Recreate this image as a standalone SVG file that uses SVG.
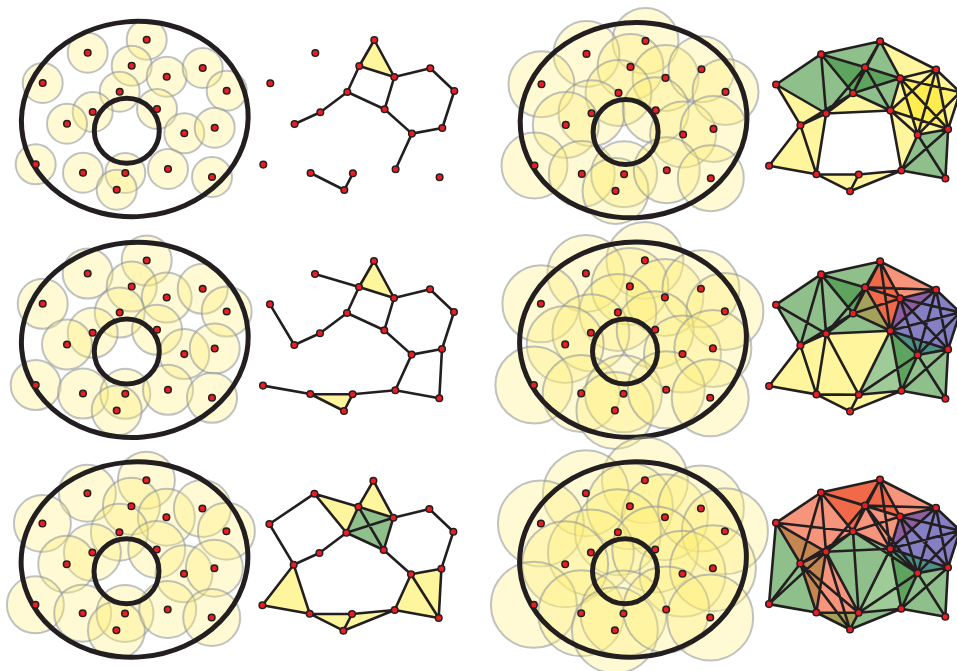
<svg xmlns="http://www.w3.org/2000/svg" xmlns:xlink="http://www.w3.org/1999/xlink" width="957" height="671" viewBox="0 0 957 671">
<style>
.ball circle{fill:#fff176;fill-opacity:.32;stroke:#8a919c;stroke-opacity:.55;stroke-width:2}
.ring{fill:none;stroke:#231f20;stroke-width:5}
.e{fill:none;stroke:#231f20;stroke-width:2.6;stroke-linecap:round;stroke-linejoin:round}
.pt{fill:#ec1c24;stroke:#231f20;stroke-width:1.5}
.y{fill:#fff59d}.by{fill:#ffe92e;fill-opacity:.45}.g{fill:#8fc08c}.dg{fill:#5ea35e}.lg{fill:#9fcb98}
.sa{fill:#f6957c}.rd{fill:#f06a4a}.pu{fill:#8d5fa0}.bl{fill:#8580c4}.tl{fill:#4d9088}.ol{fill:#a3a15a}.br{fill:#c58652}
</style>
<defs>
<g id="pts">
<circle class="pt" cx="146.7" cy="39.7" r="3.3"/><circle class="pt" cx="87.7" cy="52.7" r="3.3"/><circle class="pt" cx="131.7" cy="65.7" r="3.3"/><circle class="pt" cx="166.7" cy="76.7" r="3.3"/><circle class="pt" cx="202.7" cy="68" r="3.3"/><circle class="pt" cx="226.7" cy="90.7" r="3.3"/><circle class="pt" cx="42.7" cy="83" r="3.3"/><circle class="pt" cx="119.7" cy="91.7" r="3.3"/><circle class="pt" cx="92.7" cy="112" r="3.3"/><circle class="pt" cx="67" cy="123.7" r="3.3"/><circle class="pt" cx="157" cy="109" r="3.3"/><circle class="pt" cx="184.3" cy="133.3" r="3.3"/><circle class="pt" cx="214.7" cy="127.7" r="3.3"/><circle class="pt" cx="35.7" cy="164.3" r="3.3"/><circle class="pt" cx="83" cy="172.7" r="3.3"/><circle class="pt" cx="125.3" cy="173" r="3.3"/><circle class="pt" cx="116.7" cy="189.7" r="3.3"/><circle class="pt" cx="168" cy="169" r="3.3"/><circle class="pt" cx="212" cy="177" r="3.3"/>
</g>
<g id="rings">
<ellipse class="ring" cx="134.8" cy="119" rx="113.5" ry="97.5" transform="rotate(-5 134.8 119)"/>
<circle class="ring" cx="126.8" cy="130.8" r="32.5"/>
</g>
</defs>

<!-- Column 1: balls -->
<g id="panel-r1c1" transform="translate(0,0)">
<g class="ball">
<circle cx="146.7" cy="39.7" r="20"/><circle cx="87.7" cy="52.7" r="20"/><circle cx="131.7" cy="65.7" r="20"/><circle cx="166.7" cy="76.7" r="20"/><circle cx="202.7" cy="68" r="20"/><circle cx="226.7" cy="90.7" r="20"/><circle cx="42.7" cy="83" r="20"/><circle cx="119.7" cy="91.7" r="20"/><circle cx="92.7" cy="112" r="20"/><circle cx="67" cy="123.7" r="20"/><circle cx="157" cy="109" r="20"/><circle cx="184.3" cy="133.3" r="20"/><circle cx="214.7" cy="127.7" r="20"/><circle cx="35.7" cy="164.3" r="20"/><circle cx="83" cy="172.7" r="20"/><circle cx="125.3" cy="173" r="20"/><circle cx="116.7" cy="189.7" r="20"/><circle cx="168" cy="169" r="20"/><circle cx="212" cy="177" r="20"/>
</g>
<use href="#rings"/><use href="#pts"/>
</g>
<g id="panel-r2c1" transform="translate(0,220.8)">
<g class="ball">
<circle cx="146.7" cy="39.7" r="25"/><circle cx="87.7" cy="52.7" r="25"/><circle cx="131.7" cy="65.7" r="25"/><circle cx="166.7" cy="76.7" r="25"/><circle cx="202.7" cy="68" r="25"/><circle cx="226.7" cy="90.7" r="25"/><circle cx="42.7" cy="83" r="25"/><circle cx="119.7" cy="91.7" r="25"/><circle cx="92.7" cy="112" r="25"/><circle cx="67" cy="123.7" r="25"/><circle cx="157" cy="109" r="25"/><circle cx="184.3" cy="133.3" r="25"/><circle cx="214.7" cy="127.7" r="25"/><circle cx="35.7" cy="164.3" r="25"/><circle cx="83" cy="172.7" r="25"/><circle cx="125.3" cy="173" r="25"/><circle cx="116.7" cy="189.7" r="25"/><circle cx="168" cy="169" r="25"/><circle cx="212" cy="177" r="25"/>
</g>
<use href="#rings"/><use href="#pts"/>
</g>
<g id="panel-r3c1" transform="translate(-0.3,440.5)">
<g class="ball">
<circle cx="146.7" cy="39.7" r="28.5"/><circle cx="87.7" cy="52.7" r="28.5"/><circle cx="131.7" cy="65.7" r="28.5"/><circle cx="166.7" cy="76.7" r="28.5"/><circle cx="202.7" cy="68" r="28.5"/><circle cx="226.7" cy="90.7" r="28.5"/><circle cx="42.7" cy="83" r="28.5"/><circle cx="119.7" cy="91.7" r="28.5"/><circle cx="92.7" cy="112" r="28.5"/><circle cx="67" cy="123.7" r="28.5"/><circle cx="157" cy="109" r="28.5"/><circle cx="184.3" cy="133.3" r="28.5"/><circle cx="214.7" cy="127.7" r="28.5"/><circle cx="35.7" cy="164.3" r="28.5"/><circle cx="83" cy="172.7" r="28.5"/><circle cx="125.3" cy="173" r="28.5"/><circle cx="116.7" cy="189.7" r="28.5"/><circle cx="168" cy="169" r="28.5"/><circle cx="212" cy="177" r="28.5"/>
</g>
<use href="#rings"/><use href="#pts"/>
</g>

<!-- Column 3: larger balls -->
<g id="panel-r1c3" transform="translate(498.8,1.2)">
<g class="ball">
<circle cx="146.7" cy="39.7" r="33"/><circle cx="87.7" cy="52.7" r="33"/><circle cx="131.7" cy="65.7" r="33"/><circle cx="166.7" cy="76.7" r="33"/><circle cx="202.7" cy="68" r="33"/><circle cx="226.7" cy="90.7" r="33"/><circle cx="42.7" cy="83" r="33"/><circle cx="119.7" cy="91.7" r="33"/><circle cx="92.7" cy="112" r="33"/><circle cx="67" cy="123.7" r="33"/><circle cx="157" cy="109" r="33"/><circle cx="184.3" cy="133.3" r="33"/><circle cx="214.7" cy="127.7" r="33"/><circle cx="35.7" cy="164.3" r="33"/><circle cx="83" cy="172.7" r="33"/><circle cx="125.3" cy="173" r="33"/><circle cx="116.7" cy="189.7" r="33"/><circle cx="168" cy="169" r="33"/><circle cx="212" cy="177" r="33"/>
</g>
<use href="#rings"/><use href="#pts"/>
</g>
<g id="panel-r2c3" transform="translate(498.2,220.7)">
<g class="ball">
<circle cx="146.7" cy="39.7" r="38.5"/><circle cx="87.7" cy="52.7" r="38.5"/><circle cx="131.7" cy="65.7" r="38.5"/><circle cx="166.7" cy="76.7" r="38.5"/><circle cx="202.7" cy="68" r="38.5"/><circle cx="226.7" cy="90.7" r="38.5"/><circle cx="42.7" cy="83" r="38.5"/><circle cx="119.7" cy="91.7" r="38.5"/><circle cx="92.7" cy="112" r="38.5"/><circle cx="67" cy="123.7" r="38.5"/><circle cx="157" cy="109" r="38.5"/><circle cx="184.3" cy="133.3" r="38.5"/><circle cx="214.7" cy="127.7" r="38.5"/><circle cx="35.7" cy="164.3" r="38.5"/><circle cx="83" cy="172.7" r="38.5"/><circle cx="125.3" cy="173" r="38.5"/><circle cx="116.7" cy="189.7" r="38.5"/><circle cx="168" cy="169" r="38.5"/><circle cx="212" cy="177" r="38.5"/>
</g>
<use href="#rings"/><use href="#pts"/>
</g>
<g id="panel-r3c3" transform="translate(498.2,440.5)">
<g class="ball">
<circle cx="146.7" cy="39.7" r="43"/><circle cx="87.7" cy="52.7" r="43"/><circle cx="131.7" cy="65.7" r="43"/><circle cx="166.7" cy="76.7" r="43"/><circle cx="202.7" cy="68" r="43"/><circle cx="226.7" cy="90.7" r="43"/><circle cx="42.7" cy="83" r="43"/><circle cx="119.7" cy="91.7" r="43"/><circle cx="92.7" cy="112" r="43"/><circle cx="67" cy="123.7" r="43"/><circle cx="157" cy="109" r="43"/><circle cx="184.3" cy="133.3" r="43"/><circle cx="214.7" cy="127.7" r="43"/><circle cx="35.7" cy="164.3" r="43"/><circle cx="83" cy="172.7" r="43"/><circle cx="125.3" cy="173" r="43"/><circle cx="116.7" cy="189.7" r="43"/><circle cx="168" cy="169" r="43"/><circle cx="212" cy="177" r="43"/>
</g>
<use href="#rings"/><use href="#pts"/>
</g>

<!-- Column 2: small Rips complexes -->
<g id="panel-r1c2" transform="translate(227.6,0.3)">
<polygon class="y" points="146.7,39.7 131.7,65.7 166.7,76.7"/>
<g id="edges-r1c2"><path class="e" d="M146.7,39.7L131.7,65.7L166.7,76.7Z M131.7,65.7L119.7,91.7L157,109L166.7,76.7L202.7,68L226.7,90.7L214.7,127.7L184.3,133.3L157,109 M119.7,91.7L92.7,112L67,123.7 M184.3,133.3L168,169 M83,172.7L116.7,189.7L125.3,173"/></g>
<use href="#pts"/>
</g>
<g id="panel-r2c2" transform="translate(227.3,221.3)">
<polygon class="y" points="146.7,39.7 131.7,65.7 166.7,76.7"/>
<polygon class="y" points="83,172.7 125.3,173 116.7,189.7"/>
<g id="edges-r2c2"><path class="e" d="M146.7,39.7L131.7,65.7L166.7,76.7Z M87.7,52.7L131.7,65.7L119.7,91.7L157,109L166.7,76.7L202.7,68L226.7,90.7L214.7,127.7L184.3,133.3L157,109 M119.7,91.7L92.7,112L67,123.7L42.7,83 M214.7,127.7L212,177L168,169L184.3,133.3 M35.7,164.3L83,172.7L125.3,173L168,169 M83,172.7L116.7,189.7L125.3,173"/></g>
<use href="#pts"/>
</g>
<g id="panel-r3c2" transform="translate(226.7,441)">
<polygon class="y" points="87.7,52.7 131.7,65.7 119.7,91.7"/>
<polygon class="y" points="146.7,39.7 131.7,65.7 166.7,76.7"/>
<polygon class="g" points="131.7,65.7 166.7,76.7 157,109 119.7,91.7"/>
<polygon class="y" points="67,123.7 35.7,164.3 83,172.7"/>
<polygon class="y" points="83,172.7 125.3,173 116.7,189.7"/>
<polygon class="y" points="125.3,173 168,169 116.7,189.7"/>
<polygon class="y" points="184.3,133.3 214.7,127.7 212,177 168,169"/>
<g id="edges-r3c2"><path class="e" d="M146.7,39.7L131.7,65.7L166.7,76.7Z M67,123.7L42.7,83L87.7,52.7L131.7,65.7L119.7,91.7L87.7,52.7 M131.7,65.7L157,109L119.7,91.7L166.7,76.7L157,109 M166.7,76.7L202.7,68L226.7,90.7L214.7,127.7L184.3,133.3L157,109 M119.7,91.7L92.7,112L67,123.7L35.7,164.3L83,172.7L67,123.7 M83,172.7L125.3,173L116.7,189.7L83,172.7 M125.3,173L168,169L116.7,189.7 M168,169L184.3,133.3L212,177L214.7,127.7 M168,169L212,177"/></g>
<use href="#pts"/>
</g>

<!-- Column 4: larger Rips complexes -->
<g id="panel-r1c4" transform="translate(733.4,1.5)">
<polygon class="y" points="42.7,83 92.7,112 67,123.7"/>
<polygon class="y" points="92.7,112 67,123.7 83,172.7"/>
<polygon class="y" points="67,123.7 35.7,164.3 83,172.7"/>
<polygon class="y" points="119.7,91.7 92.7,112 157,109"/>
<polygon class="y" points="146.7,39.7 166.7,76.7 202.7,68"/>
<polygon class="y" points="157,109 184.3,133.3 168,169"/>
<polygon class="y" points="83,172.7 125.3,173 116.7,189.7"/>
<polygon class="y" points="125.3,173 116.7,189.7 168,169"/>
<polygon class="g" points="42.7,83 87.7,52.7 92.7,112"/>
<polygon class="g" points="87.7,52.7 146.7,39.7 131.7,65.7"/>
<polygon class="g" points="87.7,52.7 119.7,91.7 92.7,112"/>
<polygon class="g" points="146.7,39.7 131.7,65.7 166.7,76.7"/>
<polygon class="g" points="119.7,91.7 166.7,76.7 157,109"/>
<polygon class="dg" points="87.7,52.7 131.7,65.7 119.7,91.7"/>
<polygon class="dg" points="131.7,65.7 166.7,76.7 119.7,91.7"/>
<polygon class="g" points="184.3,133.3 214.7,127.7 212,177 168,169"/>
<polygon class="y" points="166.7,76.7 202.7,68 226.7,90.7 214.7,127.7 184.3,133.3 157,109"/>
<polygon class="by" points="166.7,76.7 226.7,90.7 184.3,133.3"/>
<polygon class="by" points="202.7,68 214.7,127.7 157,109"/>
<g id="edges-r1c4"><path class="e" d="M42.7,83L87.7,52.7L146.7,39.7L202.7,68L226.7,90.7L214.7,127.7L212,177L168,169L116.7,189.7L83,172.7L35.7,164.3L67,123.7Z M42.7,83L92.7,112L87.7,52.7L119.7,91.7L92.7,112L67,123.7L83,172.7L92.7,112L157,109L119.7,91.7L131.7,65.7L87.7,52.7 M67,123.7L119.7,91.7L146.7,39.7L131.7,65.7L166.7,76.7L146.7,39.7 M119.7,91.7L166.7,76.7L202.7,68L157,109L131.7,65.7L92.7,112 M166.7,76.7L157,109L184.3,133.3L166.7,76.7L226.7,90.7L184.3,133.3L214.7,127.7L202.7,68L184.3,133.3 M157,109L214.7,127.7L168,169L184.3,133.3L212,177 M157,109L168,169 M166.7,76.7L214.7,127.7 M83,172.7L125.3,173L116.7,189.7 M125.3,173L168,169"/></g>
<use href="#pts"/>
</g>
<g id="panel-r2c4" transform="translate(733.4,221.7)">
<polygon class="y" points="67,123.7 92.7,112 83,172.7 35.7,164.3"/>
<polygon class="y" points="92.7,112 157,109 125.3,173 83,172.7"/>
<polygon class="y" points="83,172.7 125.3,173 116.7,189.7"/>
<polygon class="y" points="125.3,173 168,169 116.7,189.7"/>
<polygon class="g" points="42.7,83 87.7,52.7 92.7,112 67,123.7"/>
<polygon class="g" points="87.7,52.7 146.7,39.7 131.7,65.7"/>
<polygon class="g" points="87.7,52.7 119.7,91.7 92.7,112"/>
<polygon class="g" points="119.7,91.7 92.7,112 157,109"/>
<polygon class="dg" points="87.7,52.7 131.7,65.7 119.7,91.7"/>
<polygon class="ol" points="131.7,65.7 119.7,91.7 157,109"/>
<polygon class="sa" points="146.7,39.7 166.7,76.7 202.7,68"/>
<polygon class="rd" points="146.7,39.7 131.7,65.7 157,109 166.7,76.7"/>
<polygon class="bl" points="166.7,76.7 202.7,68 226.7,90.7 214.7,127.7 184.3,133.3 157,109"/>
<polygon class="pu" points="166.7,76.7 202.7,68 157,109"/>
<polygon class="tl" points="157,109 184.3,133.3 214.7,127.7"/>
<polygon class="lg" points="157,109 125.3,173 168,169"/>
<polygon class="dg" points="157,109 184.3,133.3 168,169"/>
<polygon class="g" points="184.3,133.3 214.7,127.7 212,177 168,169"/>
<g id="edges-r2c4"><path class="e" d="M42.7,83L87.7,52.7L146.7,39.7L202.7,68L226.7,90.7L214.7,127.7L212,177L168,169L116.7,189.7L83,172.7L35.7,164.3L67,123.7Z M42.7,83L92.7,112L87.7,52.7L119.7,91.7L92.7,112L67,123.7L83,172.7L92.7,112L157,109L119.7,91.7L131.7,65.7L87.7,52.7 M67,123.7L119.7,91.7L146.7,39.7L131.7,65.7L166.7,76.7L146.7,39.7 M119.7,91.7L166.7,76.7L202.7,68L157,109L131.7,65.7L92.7,112 M166.7,76.7L157,109L184.3,133.3L166.7,76.7L226.7,90.7L184.3,133.3L214.7,127.7L202.7,68L184.3,133.3 M157,109L214.7,127.7L168,169L184.3,133.3L212,177 M157,109L168,169 M166.7,76.7L214.7,127.7 M83,172.7L125.3,173L116.7,189.7 M125.3,173L168,169 M87.7,52.7L67,123.7 M146.7,39.7L157,109 M131.7,65.7L202.7,68 M226.7,90.7L157,109L125.3,173L92.7,112 M125.3,173L184.3,133.3"/></g>
<use href="#pts"/>
</g>
<g id="panel-r3c4" transform="translate(733.3,439.8)">
<polygon class="sa" points="42.7,83 87.7,52.7 146.7,39.7 202.7,68 166.7,76.7 157,109 92.7,112"/>
<polygon class="rd" points="87.7,52.7 146.7,39.7 131.7,65.7 119.7,91.7"/>
<polygon class="rd" points="146.7,39.7 131.7,65.7 166.7,76.7"/>
<polygon class="g" points="42.7,83 67,123.7 35.7,164.3"/>
<polygon class="g" points="67,123.7 35.7,164.3 83,172.7"/>
<polygon class="br" points="42.7,83 67,123.7 92.7,112"/>
<polygon class="br" points="67,123.7 92.7,112 83,172.7"/>
<polygon class="sa" points="92.7,112 125.3,173 83,172.7"/>
<polygon class="g" points="119.7,91.7 92.7,112 157,109"/>
<polygon class="g" points="92.7,112 157,109 125.3,173"/>
<polygon class="ol" points="83,172.7 125.3,173 116.7,189.7"/>
<polygon class="g" points="125.3,173 168,169 116.7,189.7"/>
<polygon class="bl" points="166.7,76.7 202.7,68 226.7,90.7 214.7,127.7 184.3,133.3 157,109"/>
<polygon class="pu" points="166.7,76.7 202.7,68 157,109"/>
<polygon class="tl" points="157,109 184.3,133.3 214.7,127.7"/>
<polygon class="lg" points="157,109 125.3,173 168,169"/>
<polygon class="dg" points="157,109 184.3,133.3 168,169"/>
<polygon class="g" points="184.3,133.3 214.7,127.7 212,177 168,169"/>
<g id="edges-r3c4"><path class="e" d="M42.7,83L87.7,52.7L146.7,39.7L202.7,68L226.7,90.7L214.7,127.7L212,177L168,169L116.7,189.7L83,172.7L35.7,164.3L67,123.7Z M42.7,83L92.7,112L87.7,52.7L119.7,91.7L92.7,112L67,123.7L83,172.7L92.7,112L157,109L119.7,91.7L131.7,65.7L87.7,52.7 M67,123.7L119.7,91.7L146.7,39.7L131.7,65.7L166.7,76.7L146.7,39.7 M119.7,91.7L166.7,76.7L202.7,68L157,109L131.7,65.7L92.7,112 M166.7,76.7L157,109L184.3,133.3L166.7,76.7L226.7,90.7L184.3,133.3L214.7,127.7L202.7,68L184.3,133.3 M157,109L214.7,127.7L168,169L184.3,133.3L212,177 M157,109L168,169 M166.7,76.7L214.7,127.7 M83,172.7L125.3,173L116.7,189.7 M125.3,173L168,169 M87.7,52.7L67,123.7 M146.7,39.7L157,109 M131.7,65.7L202.7,68 M226.7,90.7L157,109L125.3,173L92.7,112 M125.3,173L184.3,133.3 M42.7,83L35.7,164.3L92.7,112 M119.7,91.7L184.3,133.3 M87.7,52.7L166.7,76.7 M67,123.7L116.7,189.7L92.7,112 M119.7,91.7L125.3,173L67,123.7 M131.7,65.7L184.3,133.3 M42.7,83L119.7,91.7"/></g>
<use href="#pts"/>
</g>
</svg>
